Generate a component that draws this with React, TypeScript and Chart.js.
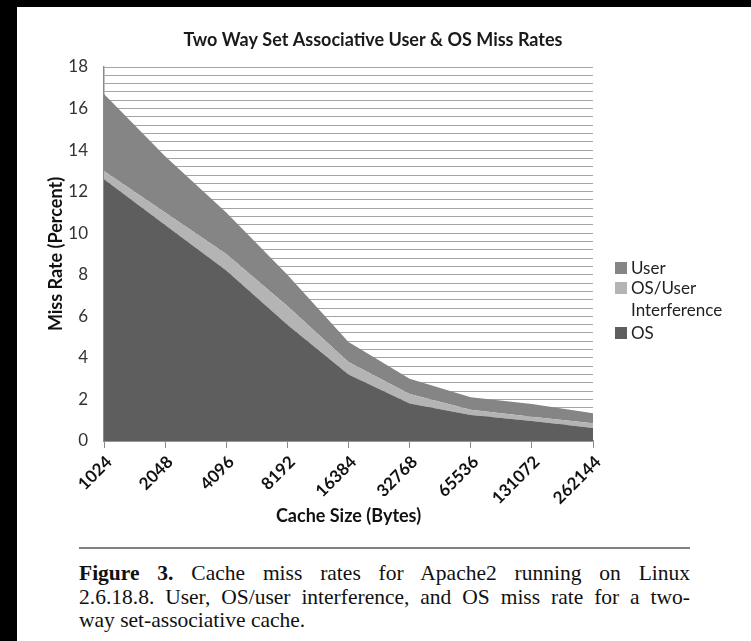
import React, { useEffect, useRef } from "react";
import { Chart, registerables } from "chart.js";

Chart.register(...registerables);

// ---- data ----
const categories = ["1024", "2048", "4096", "8192", "16384", "32768", "65536", "131072", "262144"];
const osValues = [12.6, 10.4, 8.2, 5.6, 3.2, 1.8, 1.25, 0.96, 0.63];
const interferenceValues = [0.4, 0.6, 0.8, 0.9, 0.6, 0.46, 0.25, 0.21, 0.22];
const userValues = [3.7, 2.7, 2.0, 1.5, 0.96, 0.74, 0.6, 0.61, 0.48];
const yMin = 0;
const yMax = 18;
const yGridStep = 0.4;
const yLabelStep = 2;

const chartTitle = "Two Way Set Associative User & OS Miss Rates";
const xTitle = "Cache Size (Bytes)";
const yTitle = "Miss Rate (Percent)";
const seriesNames = ["OS", "OS/User Interference", "User"];
const legendLines = [["User"], ["OS/User", "Interference"], ["OS"]];
const captionBold = "Figure 3.";
const captionLines = [
  " Cache miss rates for Apache2 running on Linux",
  "2.6.18.8. User, OS/user interference, and OS miss rate for a two-",
  "way set-associative cache.",
];

// ---- styles ----
const OS_COLOR = "#5e5e5e";
const INT_COLOR = "#b4b4b4";
const USER_COLOR = "#858585";
const GRID_COLOR = "#a4a4a4";
const AXIS_COLOR = "#8a8a8a";
const SANS = "Lato, 'Open Sans', sans-serif";

export default function App() {
  const canvasRef = useRef<HTMLCanvasElement | null>(null);

  useEffect(() => {
    const canvas = canvasRef.current;
    if (!canvas) return;
    const chart = new Chart(canvas, {
      type: "line",
      data: {
        labels: categories,
        datasets: [
          {
            label: seriesNames[0],
            data: osValues,
            backgroundColor: OS_COLOR,
            borderWidth: 0,
            pointRadius: 0,
            fill: "origin",
          },
          {
            label: seriesNames[1],
            data: interferenceValues,
            backgroundColor: INT_COLOR,
            borderWidth: 0,
            pointRadius: 0,
            fill: "-1",
          },
          {
            label: seriesNames[2],
            data: userValues,
            backgroundColor: USER_COLOR,
            borderWidth: 0,
            pointRadius: 0,
            fill: "-1",
          },
        ],
      },
      options: {
        animation: false,
        responsive: false,
        devicePixelRatio: 1,
        layout: { padding: { left: 28, right: 50, top: 0, bottom: 0 } },
        plugins: {
          legend: { display: false },
          tooltip: { enabled: false },
          title: {
            display: true,
            text: chartTitle,
            color: "#1a1a1a",
            font: { family: SANS, size: 18, weight: "bold", lineHeight: 1.2 },
            padding: { top: 22.2, bottom: 16.2 },
          },
        },
        scales: {
          x: {
            offset: false,
            afterFit: (scale: any) => {
              scale.height = 86;
            },
            grid: {
              display: true,
              drawOnChartArea: false,
              drawTicks: true,
              tickLength: 7,
              color: AXIS_COLOR,
            },
            border: { display: true, color: AXIS_COLOR, width: 1.5 },
            ticks: {
              autoSkip: false,
              minRotation: 45,
              maxRotation: 45,
              padding: 4,
              labelOffset: 5,
              color: "#111",
              font: { family: SANS, size: 17, weight: "bold" },
            },
            title: {
              display: true,
              text: xTitle,
              color: "#111",
              font: { family: SANS, size: 18, weight: "bold", lineHeight: 1.2 },
              padding: { top: 0, bottom: 0 },
            },
          },
          y: {
            stacked: true,
            min: yMin,
            max: yMax,
            afterFit: (scale: any) => {
              scale.width = 59;
            },
            grid: {
              display: true,
              drawTicks: false,
              color: GRID_COLOR,
              lineWidth: 1,
            },
            border: { display: true, color: AXIS_COLOR, width: 1.5 },
            ticks: {
              stepSize: yGridStep,
              autoSkip: false,
              padding: 16,
              color: "#333",
              font: { family: SANS, size: 17 },
              callback: (value: any) => {
                const v = Number(value);
                const r = v / yLabelStep;
                return Math.abs(r - Math.round(r)) < 1e-6 ? String(Math.round(v)) : "";
              },
            },
            title: {
              display: true,
              text: yTitle,
              color: "#111",
              font: { family: SANS, size: 18, weight: "bold", lineHeight: 1.2 },
              padding: { top: 0, bottom: 0 },
            },
          },
          // invisible spacer on the right, reserving room for the legend
          y2: {
            type: "linear",
            position: "right",
            display: true,
            min: yMin,
            max: yMax,
            afterFit: (scale: any) => {
              scale.width = 108;
            },
            grid: { display: false, drawTicks: false },
            border: { display: false },
            ticks: { display: false },
            title: { display: false },
          },
        },
      },
    });
    return () => chart.destroy();
  }, []);

  const legendColors = [USER_COLOR, INT_COLOR, OS_COLOR];
  const legendTops = [257, 277, 322];

  return (
    <div
      style={{
        position: "absolute",
        left: 0,
        top: 0,
        width: 751,
        height: 641,
        background: "#000",
        overflow: "hidden",
      }}
    >
      <div
        style={{
          position: "absolute",
          left: 17,
          top: 7,
          width: 734,
          height: 634,
          background: "#fff",
        }}
      >
        <canvas
          ref={canvasRef}
          width={734}
          height={520}
          style={{ position: "absolute", left: 0, top: 0, width: 734, height: 520 }}
        />
      </div>
      {legendLines.map((lines, i) => (
        <div
          key={i}
          style={{
            position: "absolute",
            left: 615,
            top: legendTops[i],
            fontFamily: SANS,
            fontSize: 17,
            lineHeight: "22px",
            color: "#222",
          }}
        >
          <span
            style={{
              position: "absolute",
              left: 0,
              top: 5,
              width: 12,
              height: 12,
              background: legendColors[i],
            }}
          />
          <div style={{ marginLeft: 16 }}>
            {lines.map((t, j) => (
              <div key={j} style={{ whiteSpace: "nowrap" }}>
                {t}
              </div>
            ))}
          </div>
        </div>
      ))}
      <div
        style={{
          position: "absolute",
          left: 79,
          top: 547,
          width: 611,
          height: 2,
          background: "#808080",
        }}
      />
      {captionLines.map((t, i) => (
        <div
          key={i}
          style={{
            position: "absolute",
            left: 79,
            top: [561, 585, 608][i],
            width: 611,
            fontFamily: "'Liberation Serif', 'Times New Roman', serif",
            fontSize: 21.5,
            lineHeight: "24px",
            color: "#111",
            textAlign: "justify",
            textAlignLast: i < 2 ? "justify" : "left",
            whiteSpace: "nowrap",
          } as React.CSSProperties}
        >
          {i === 0 ? <b>{captionBold}</b> : null}
          {t}
        </div>
      ))}
    </div>
  );
}
